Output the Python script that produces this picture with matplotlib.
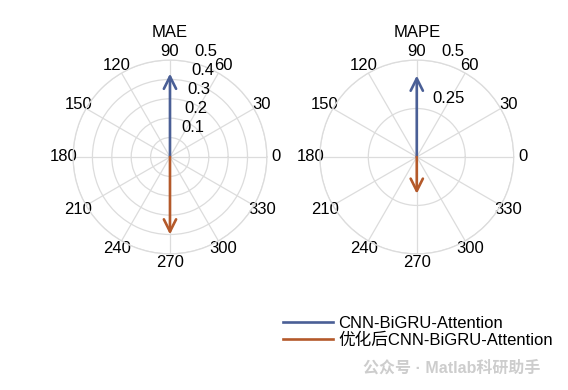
import numpy as np
import matplotlib.pyplot as plt
from matplotlib.lines import Line2D

plt.rcParams['font.family'] = ['Liberation Sans', 'Noto Sans CJK SC', 'DejaVu Sans']

# data
models = ["CNN-BiGRU-Attention", "优化后CNN-BiGRU-Attention"]
colors = ["#4A5F96", "#B4592A"]
angles_deg = [90, 270]
mae = [0.43, 0.40]
mape = [0.42, 0.19]

panels = [
    ("MAE", mae, [0.1, 0.2, 0.3, 0.4, 0.5], ["0.1", "0.2", "0.3", "0.4", "0.5"]),
    ("MAPE", mape, [0.25, 0.5], ["0.25", "0.5"]),
]
theta_ticks = np.arange(0, 360, 30)

fig = plt.figure(figsize=(5.68, 3.90), dpi=100)
positions = [[0.1285, 0.349, 0.3415, 0.497], [0.563, 0.349, 0.3415, 0.497]]

for pos, (title, vals, rticks, rlabels) in zip(positions, panels):
    ax = fig.add_axes(pos, projection="polar")
    ax.set_ylim(0, rticks[-1])
    ax.set_yticks(rticks)
    ax.set_yticklabels([])
    ax.set_thetagrids(theta_ticks, [str(t) for t in theta_ticks], fontsize=12)
    ax.tick_params(axis="x", pad=-4)
    ax.grid(True, color="#DCDCDC", linewidth=0.9)
    ax.spines["polar"].set_color("#DCDCDC")
    ax.spines["polar"].set_linewidth(0.9)
    ax.set_title(title, fontsize=12, pad=5)

    # radial labels, MATLAB style near 80 degrees
    for r, lab in zip(rticks, rlabels):
        ax.annotate(lab, xy=(np.deg2rad(80), r), xytext=(5.5, 7.5),
                    textcoords="offset points", ha="left", va="center",
                    fontsize=12, annotation_clip=False)

    for a, v, c in zip(angles_deg, vals, colors):
        ax.annotate("", xy=(np.deg2rad(a), v), xytext=(0, 0),
                    arrowprops=dict(arrowstyle="->", color=c, lw=1.9,
                                    shrinkA=0, shrinkB=0, mutation_scale=22))

handles = [Line2D([], [], color=c, lw=1.9) for c in colors]
fig.legend(handles, models, loc="upper left", bbox_to_anchor=(283 / 568, 1 - 316 / 390),
           frameon=False, fontsize=12, handlelength=3.0, handletextpad=0.3,
           labelspacing=0.1, borderpad=0, borderaxespad=0)

fig.text(363 / 568, 1 - 368 / 390, "公众号 · Matlab科研助手", fontsize=11.5,
         color="#CDCDCD", ha="left", va="center", fontweight="bold")

fig.savefig("out.png", dpi=100)
